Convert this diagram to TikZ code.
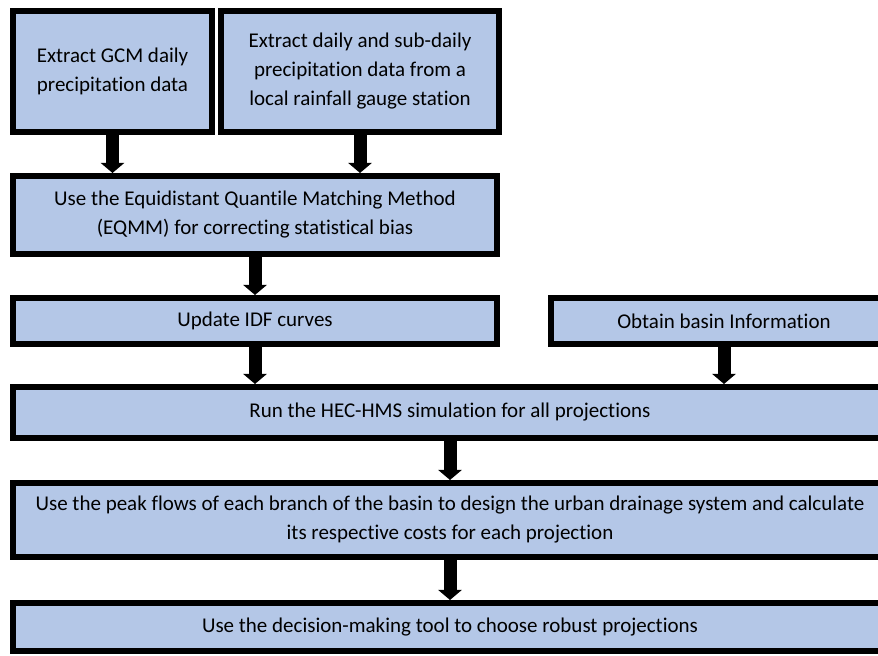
\documentclass[tikz,border=0pt]{standalone}
\usepackage{fontspec}
\setmainfont{Carlito}[Ligatures=NoCommon]
\usetikzlibrary{arrows.meta}
\definecolor{stepblue}{HTML}{B4C7E7}
\tikzset{
  box/.style={draw, fill=stepblue, line width=3pt, align=center, inner sep=0pt, outer sep=0pt,
    font=\fontsize{10.5pt}{14.5pt}\selectfont},
  flow/.style={-{Triangle[width=11.5pt, length=5pt]}, line width=6.5pt, shorten >=1.5pt},
}

\begin{document}
\begin{tikzpicture}[x=0.5pt, y=-0.5pt]
    \clip (0,0) rectangle (878,656);
    \fill[white] (0,0) rectangle (878,656);
    \node[box, minimum width=99.5pt, minimum height=60.5pt] (gcm) at (112.5,71.5) {Extract GCM daily\\precipitation data};
    \node[box, minimum width=139pt, minimum height=60.5pt] (gauge) at (360,71.5) {Extract daily and sub-daily\\precipitation data from a\\local rainfall gauge station};
    \node[box, minimum width=242pt, minimum height=39pt] (eqmm) at (255,215) {Use the Equidistant Quantile Matching Method\\(EQMM) for correcting statistical bias};
    \node[box, minimum width=242pt, minimum height=23pt] (idf) at (255,321) {Update IDF curves};
    \node[box, minimum width=173pt, minimum height=23pt] (basin) at (724,321) {Obtain basin Information};
    \node[box, minimum width=437pt, minimum height=25.5pt] (hms) at (450,412.5) {Run the HEC-HMS simulation for all projections};
    \node[box, minimum width=437pt, minimum height=37pt] (design) at (450,520) {Use the peak flows of each branch of the basin to design the urban drainage system and calculate\\its respective costs for each projection};
    \node[box, minimum width=437pt, minimum height=24pt] (robust) at (450,627) {Use the decision-making tool to choose robust projections};
    \draw[flow] (gcm.south) -- (gcm.south |- eqmm.north);
    \draw[flow] (gauge.south) -- (gauge.south |- eqmm.north);
    \draw[flow] (eqmm.south) -- (eqmm.south |- idf.north);
    \draw[flow] (idf.south) -- (idf.south |- hms.north);
    \draw[flow] (basin.south) -- (basin.south |- hms.north);
    \draw[flow] (hms.south) -- (hms.south |- design.north);
    \draw[flow] (design.south) -- (design.south |- robust.north);
  \end{tikzpicture}
\end{document}
